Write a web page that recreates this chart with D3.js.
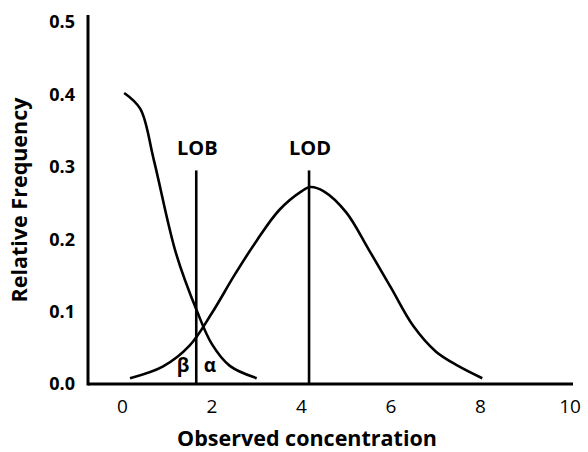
<!DOCTYPE html>
<html>
<head>
<meta charset="utf-8">
<script src="https://cdn.jsdelivr.net/npm/d3@7"></script>
<style>
  body { margin: 0; background: #fff; }
  svg text { font-family: "Open Sans", sans-serif; fill: #000; }
</style>
</head>
<body>
<div id="chart"></div>
<script>
// courbe du blanc (LOB)
const blankX = [0.04, 0.4, 0.7, 1.2, 1.67, 2.0, 2.4, 3.0];
const blankY = [0.402, 0.38, 0.31, 0.18, 0.10, 0.055, 0.025, 0.008];
// courbe de l'échantillon faible (LOD)
const lowX = [0.17, 0.9, 1.5, 2.0, 2.5, 3.0, 3.5, 4.0, 4.2, 4.5, 5.0, 5.5, 6.0, 6.5, 7.0, 7.5, 8.04];
const lowY = [0.008, 0.024, 0.053, 0.098, 0.150, 0.198, 0.240, 0.266, 0.272, 0.266, 0.237, 0.186, 0.133, 0.080, 0.045, 0.025, 0.008];
const xTicks = [0, 2, 4, 6, 8, 10];
const yTicks = [0.0, 0.1, 0.2, 0.3, 0.4, 0.5];
const markers = [{ label: 'LOB', x: 1.65, top: 0.295 }, { label: 'LOD', x: 4.17, top: 0.295 }];

const width = 588, height = 452;
const svg = d3.select('#chart').append('svg')
    .attr('width', width)
    .attr('height', height);

const x = d3.scaleLinear().domain([0, 10]).range([122.4, 570]);
const y = d3.scaleLinear().domain([0, 0.5]).range([384, 22]);

// axes
svg.append('line')
    .attr('x1', 88).attr('x2', 88)
    .attr('y1', 15).attr('y2', y(0) + 1.5)
    .attr('stroke', '#000').attr('stroke-width', 3);
svg.append('line')
    .attr('x1', 88).attr('x2', 573)
    .attr('y1', y(0)).attr('y2', y(0))
    .attr('stroke', '#000').attr('stroke-width', 3);

svg.selectAll('.ytick')
    .data(yTicks)
    .enter()
    .append('text')
    .attr('class', 'ytick')
    .attr('x', 75)
    .attr('y', d => y(d))
    .attr('dy', '0.35em')
    .attr('text-anchor', 'end')
    .attr('font-size', 18)
    .attr('font-weight', 'bold')
    .text(d => d.toFixed(1));

svg.selectAll('.xtick')
    .data(xTicks)
    .enter()
    .append('text')
    .attr('class', 'xtick')
    .attr('x', d => x(d))
    .attr('y', 413)
    .attr('text-anchor', 'middle')
    .attr('font-size', 19)
    .text(d => d);

svg.append('text')
    .attr('x', 307)
    .attr('y', 446)
    .attr('text-anchor', 'middle')
    .attr('font-size', 21.5)
    .attr('font-weight', 'bold')
    .text('Observed concentration');

svg.append('text')
    .attr('transform', 'translate(27,200) rotate(-90)')
    .attr('text-anchor', 'middle')
    .attr('font-size', 21.5)
    .attr('font-weight', 'bold')
    .text('Relative Frequency');

// courbes
const line = d3.line()
    .x(d => x(d[0]))
    .y(d => y(d[1]))
    .curve(d3.curveCatmullRom.alpha(0.5));

[[blankX, blankY], [lowX, lowY]].forEach(([xs, ys]) => {
    svg.append('path')
        .datum(xs.map((v, i) => [v, ys[i]]))
        .attr('d', line)
        .attr('fill', 'none')
        .attr('stroke', '#000')
        .attr('stroke-width', 2.6);
});

// lignes verticales LOB / LOD
markers.forEach(m => {
    svg.append('line')
        .attr('x1', x(m.x)).attr('x2', x(m.x))
        .attr('y1', y(m.top)).attr('y2', y(0))
        .attr('stroke', '#000').attr('stroke-width', 2.6);
    svg.append('text')
        .attr('x', x(m.x) + 1)
        .attr('y', 155)
        .attr('text-anchor', 'middle')
        .attr('font-size', 20)
        .attr('font-weight', 'bold')
        .text(m.label);
});

svg.append('text')
    .attr('x', 183).attr('y', 372)
    .attr('text-anchor', 'middle')
    .attr('font-size', 19)
    .attr('font-weight', 'bold')
    .text('β');
svg.append('text')
    .attr('x', 210).attr('y', 372)
    .attr('text-anchor', 'middle')
    .attr('font-size', 19)
    .attr('font-weight', 'bold')
    .text('α');
</script>
</body>
</html>
